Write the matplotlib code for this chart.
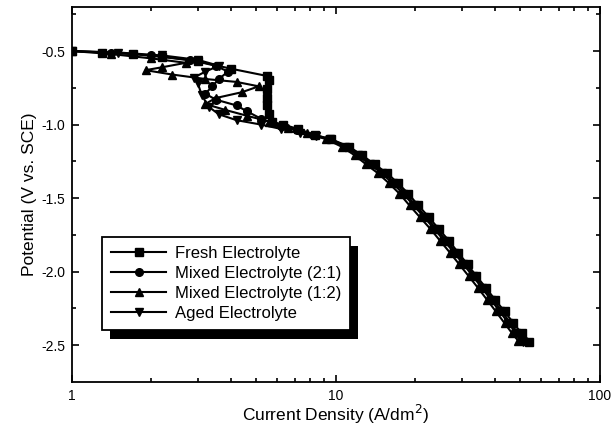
import numpy as np
import matplotlib
matplotlib.use("Agg")
import matplotlib.pyplot as plt
from matplotlib.patches import Rectangle
from matplotlib.ticker import FixedLocator, NullFormatter

plt.rcParams['font.family'] = ['Liberation Sans', 'DejaVu Sans']
plt.rcParams['axes.unicode_minus'] = False

# current density (A/dm2) and potential (V vs SCE)
fresh_i = [1.0, 1.3, 1.7, 2.2, 3.0, 4.0, 5.5, 5.6, 5.5, 5.5, 5.5, 5.6, 5.7, 6.3, 7.2, 8.3,
           9.6, 11.2, 12.6, 14.0, 15.6, 17.2, 18.8, 20.5, 22.5, 24.5, 26.8, 29.0, 31.5,
           34.0, 37.0, 40.0, 43.5, 47.0, 50.5, 54.0]
fresh_v = [-0.50, -0.51, -0.52, -0.54, -0.57, -0.62, -0.67, -0.70, -0.76, -0.82, -0.87,
           -0.93, -0.98, -1.00, -1.03, -1.07, -1.10, -1.15, -1.21, -1.27, -1.33, -1.40,
           -1.47, -1.55, -1.63, -1.71, -1.79, -1.87, -1.95, -2.03, -2.11, -2.19, -2.27,
           -2.35, -2.42, -2.48]

mix21_i = [1.0, 1.4, 2.0, 2.8, 3.5, 3.9, 3.6, 3.4, 3.2, 3.5, 4.2, 4.6, 5.2, 6.2, 7.1, 8.2,
           9.6, 11.0, 12.3, 13.7, 15.2, 16.8, 18.4, 20.0, 22.0, 24.0, 26.2, 28.5, 31.0,
           33.5, 36.3, 39.3, 42.5, 45.8, 49.0, 52.0]
mix21_v = [-0.50, -0.51, -0.53, -0.56, -0.60, -0.64, -0.69, -0.74, -0.79, -0.83, -0.87,
           -0.91, -0.96, -1.01, -1.04, -1.07, -1.10, -1.15, -1.21, -1.27, -1.33, -1.40,
           -1.47, -1.55, -1.63, -1.71, -1.79, -1.87, -1.95, -2.03, -2.11, -2.19, -2.27,
           -2.35, -2.42, -2.47]

mix12_i = [1.0, 1.4, 2.0, 2.7, 2.2, 1.9, 2.4, 3.2, 4.2, 5.1, 4.4, 3.5, 3.2, 3.8, 4.6, 5.6,
           6.6, 7.8, 9.2, 10.5, 11.8, 13.0, 14.4, 15.9, 17.4, 19.0, 20.8, 22.8, 24.8, 27.0,
           29.3, 31.8, 34.5, 37.3, 40.3, 43.5, 46.5, 49.0]
mix12_v = [-0.50, -0.52, -0.55, -0.58, -0.61, -0.63, -0.66, -0.69, -0.71, -0.74, -0.78,
           -0.82, -0.86, -0.90, -0.94, -0.98, -1.02, -1.06, -1.10, -1.15, -1.21, -1.27,
           -1.33, -1.40, -1.47, -1.55, -1.63, -1.71, -1.79, -1.87, -1.95, -2.03, -2.11,
           -2.19, -2.27, -2.35, -2.42, -2.47]

aged_i = [1.0, 1.5, 2.2, 3.0, 3.6, 3.2, 2.9, 3.0, 3.1, 3.3, 3.6, 4.2, 5.2, 6.2, 7.3, 8.4,
          9.5, 10.8, 12.1, 13.4, 14.9, 16.4, 18.0, 19.7, 21.6, 23.6, 25.7, 28.0, 30.4,
          33.0, 35.7, 38.6, 41.7, 45.0, 48.2, 51.0]
aged_v = [-0.50, -0.51, -0.53, -0.56, -0.60, -0.64, -0.68, -0.72, -0.80, -0.88, -0.93,
          -0.97, -1.00, -1.03, -1.06, -1.08, -1.10, -1.15, -1.21, -1.27, -1.33, -1.40,
          -1.47, -1.55, -1.63, -1.71, -1.79, -1.87, -1.95, -2.03, -2.11, -2.19, -2.27,
          -2.35, -2.42, -2.48]

labels = ['Fresh Electrolyte', 'Mixed Electrolyte (2:1)',
          'Mixed Electrolyte (1:2)', 'Aged Electrolyte']
series = [(fresh_i, fresh_v, 's'), (mix21_i, mix21_v, 'o'),
          (mix12_i, mix12_v, '^'), (aged_i, aged_v, 'v')]

fig = plt.figure(figsize=(6.12, 4.33), dpi=100)
ax = fig.add_axes([0.1176, 0.118, 0.8627, 0.866])

for (x, y, m), lab in zip(series, labels):
    ax.plot(x, y, color='black', lw=1.5, marker=m, ms=5.5, label=lab)

ax.set_xscale('log')
ax.set_xlim(1, 100)
ax.set_ylim(-2.75, -0.2)
ax.xaxis.set_major_locator(FixedLocator([1, 10, 100]))
ax.set_xticklabels(['1', '10', '100'])
minors = [k * d for d in (1, 10) for k in range(2, 10)]
ax.xaxis.set_minor_locator(FixedLocator(minors))
ax.xaxis.set_minor_formatter(NullFormatter())
ax.set_yticks([-0.5, -1.0, -1.5, -2.0, -2.5])
ax.set_yticklabels(['-0.5', '-1.0', '-1.5', '-2.0', '-2.5'])
ax.yaxis.set_minor_locator(FixedLocator([-0.25, -0.75, -1.25, -1.75, -2.25]))

ax.tick_params(which='both', direction='in', top=True, right=True, labelsize=10, width=1.2)
ax.tick_params(which='major', length=5, pad=5)
ax.tick_params(which='minor', length=3)
for s in ax.spines.values():
    s.set_linewidth(1.3)

ax.set_xlabel('Current Density (A/dm$^2$)', fontsize=12.5, labelpad=0)
ax.set_ylabel('Potential (V vs. SCE)', fontsize=12.5, labelpad=3)

leg = ax.legend(loc='upper left', bbox_to_anchor=(0.057, 0.387), borderaxespad=0,
                fontsize=12, handlelength=3.3, labelspacing=0.3, fancybox=False,
                edgecolor='black', framealpha=1, borderpad=0.55, handletextpad=0.5)
leg.get_frame().set_linewidth(1.3)
leg.set_zorder(6)

# drop shadow behind the legend box
fig.canvas.draw()
bb = leg.get_window_extent().transformed(ax.transAxes.inverted())
dx, dy = 8 / 528, 9 / 375
ax.add_patch(Rectangle((bb.x0 + dx, bb.y0 - dy), bb.width, bb.height,
                       transform=ax.transAxes, facecolor='black',
                       edgecolor='none', zorder=5, clip_on=False))

fig.savefig('out.png', dpi=100)
